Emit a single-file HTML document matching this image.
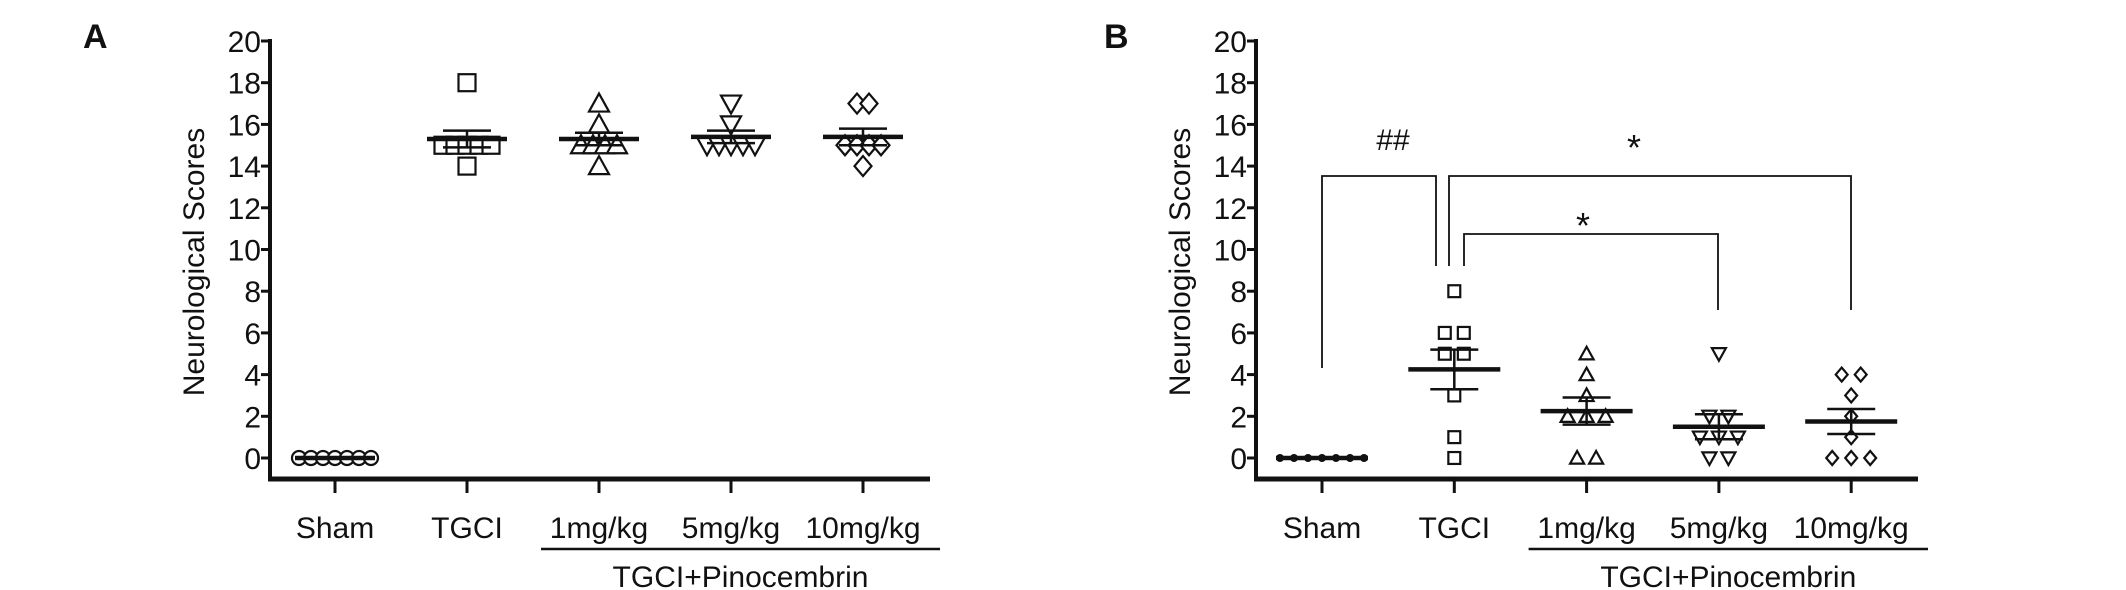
<!DOCTYPE html>
<html><head><meta charset="utf-8"><style>
html,body{margin:0;padding:0;background:#fff}
svg{display:block}
text{font-family:"Liberation Sans",sans-serif;fill:#111}
</style></head><body>
<svg id="chart" width="2126" height="590" viewBox="0 0 2126 590" xmlns="http://www.w3.org/2000/svg"></svg>
<script>
const categories = ["Sham","TGCI","1mg/kg","5mg/kg","10mg/kg"];
const shapes = ["circle","square","triangle","invtriangle","diamond"];
const yTicks = [0,2,4,6,8,10,12,14,16,18,20];
const pointsA = [
  [0,0,0,0,0,0,0],
  [18,15,15,15,15,15,14],
  [17,16,15,15,15,15,14],
  [17,16,15,15,15,15,15],
  [17,17,15,15,15,15,14]
];
const meansA = [0,15.3,15.3,15.4,15.4];
const semA = [0,0.4,0.3,0.3,0.4];
const pointsB = [
  [0,0,0,0,0,0,0],
  [8,6,6,5,5,3,1,0],
  [5,4,3,2,2,2,0,0],
  [5,2,2,1,1,1,0,0],
  [4,4,3,2,1,0,0,0]
];
const meansB = [0,4.25,2.25,1.5,1.75];
const semB = [0,0.95,0.65,0.6,0.6];

const svg = document.getElementById('chart');
const NS = 'http://www.w3.org/2000/svg';
function mk(tag, attrs, parent){
  const e = document.createElementNS(NS, tag);
  for (const k in attrs) e.setAttribute(k, attrs[k]);
  (parent||svg).appendChild(e);
  return e;
}

function panel(cfg){
  const g = mk('g', {});
  
  
  const y0 = 458, y20 = 41;
  const yS = v => y0 - v*(y0-y20)/20;
  const xS = i => cfg.x0 + i*cfg.step;
  const L = mk('text', {x:cfg.letterX, y:48, 'font-size':34, 'font-weight':'bold', 'font-family':'Liberation Serif, serif'}, g);
  L.textContent = cfg.letter;
  
  
  const ya = mk('line', {x1:cfg.axisX, y1:39, x2:cfg.axisX, y2:481, stroke:'#111','stroke-width':4}, g);
  
  
  const xa = mk('line', {x1:cfg.axisX-2, y1:479, x2:cfg.axisEnd, y2:479, stroke:'#111','stroke-width':5}, g);
  
  
  yTicks.forEach(t=>{
    mk('line',{x1:cfg.axisX-9,y1:yS(t),x2:cfg.axisX,y2:yS(t),stroke:'#111','stroke-width':3},g);
    const tl = mk('text',{x:cfg.axisX-9,y:yS(t)+11,'font-size':30,'text-anchor':'end'},g);
    tl.textContent = t;
    
    
  });
  const yt = mk('text',{x:0,y:0,'font-size':30,'text-anchor':'middle',transform:`translate(${cfg.axisX-66},262) rotate(-90)`},g);
  yt.textContent = 'Neurological Scores';
  
  
  categories.forEach((c,i)=>{
    mk('line',{x1:xS(i),y1:479,x2:xS(i),y2:493,stroke:'#111','stroke-width':3},g);
    const tl = mk('text',{x:xS(i),y:538,'font-size':30,'text-anchor':'middle'},g);
    tl.textContent = c;
    
    
  });
  const ul = mk('line',{x1:xS(2)-58,y1:549,x2:cfg.axisEnd+10,y2:549,stroke:'#111','stroke-width':2.5},g);
  
  
  const gl = mk('text',{x:(xS(2)-58+cfg.axisEnd+10)/2,y:587,'font-size':30,'text-anchor':'middle'},g);
  gl.textContent = 'TGCI+Pinocembrin';
  
  
  cfg.points.forEach((arr,i)=>{
    const counts = {};
    arr.forEach(v=>counts[v]=(counts[v]||0)+1);
    const seen = {};
    arr.forEach(v=>{
      const k = counts[v], j = (seen[v]=(seen[v]||0)+1)-1;
      const sp = (i===0)?cfg.shamSp:cfg.sp;
      const cx = xS(i) + (j-(k-1)/2)*sp, cy = yS(v);
      const r = cfg.r;
      let e;
      const sh = (cfg.dotSham && i===0)?'dot':shapes[i];
      const st = {fill:'#fff',stroke:'#111','stroke-width':2.2};
      if (sh==='dot') e = mk('circle',{cx,cy,r:4,fill:'#111'},g);
      else if (sh==='circle') e = mk('circle',Object.assign({cx,cy,r:r*0.7},st),g);
      else if (sh==='square') e = mk('rect',Object.assign({x:cx-r*0.85,y:cy-r*0.85,width:r*1.7,height:r*1.7},st),g);
      else if (sh==='triangle') e = mk('polygon',Object.assign({points:`${cx},${cy-r} ${cx-r},${cy+r*0.8} ${cx+r},${cy+r*0.8}`},st),g);
      else if (sh==='invtriangle') e = mk('polygon',Object.assign({points:`${cx},${cy+r} ${cx-r},${cy-r*0.8} ${cx+r},${cy-r*0.8}`},st),g);
      else e = mk('polygon',Object.assign({points:`${cx},${cy-r} ${cx+r*0.85},${cy} ${cx},${cy+r} ${cx-r*0.85},${cy}`},st),g);
      
      
    });
    const m = cfg.means[i], s = cfg.sem[i], x = xS(i);
    const ml = mk('line',{x1:x-cfg.mw,y1:yS(m),x2:x+cfg.mw,y2:yS(m),stroke:'#111','stroke-width':4.5},g);
    
    
    if (s>0){
      mk('line',{x1:x,y1:yS(m-s),x2:x,y2:yS(m+s),stroke:'#111','stroke-width':2.5},g);
      mk('line',{x1:x-24,y1:yS(m+s),x2:x+24,y2:yS(m+s),stroke:'#111','stroke-width':2.5},g);
      mk('line',{x1:x-24,y1:yS(m-s),x2:x+24,y2:yS(m-s),stroke:'#111','stroke-width':2.5},g);
    }
  });
  return g;
}

panel({name:'panel-a',letter:'A',letterX:83,axisX:270,axisEnd:930,x0:335,step:132,
  points:pointsA,means:meansA,sem:semA,sp:12,shamSp:12,r:10,mw:40,dotSham:false});
const gB = panel({name:'panel-b',letter:'B',letterX:1104,axisX:1256,axisEnd:1918,x0:1322,step:132.3,
  points:pointsB,means:meansB,sem:semB,sp:19,shamSp:14,r:7,mw:46,dotSham:true});

function path(d,name){
  const p = mk('path',{d,fill:'none',stroke:'#111','stroke-width':1.8},gB);
  
  
}
path('M1322,368 V176 H1436 V266','bracket-sham-tgci');
path('M1449,266 V176 H1851 V310','bracket-tgci-10mg');
path('M1464,266 V234 H1718 V310','bracket-tgci-5mg');
function lab(t,x,y,name,fs){
  const e = mk('text',{x,y,'font-size':fs,'text-anchor':'middle','font-family':'Liberation Serif, serif'},gB);
  e.textContent = t;
  
  
}
lab('##',1393,150,'sig-label-hash',30);
lab('*',1634,160,'sig-label-star-10mg',36);
lab('*',1583,238,'sig-label-star-5mg',36);
</script>
</body></html>
